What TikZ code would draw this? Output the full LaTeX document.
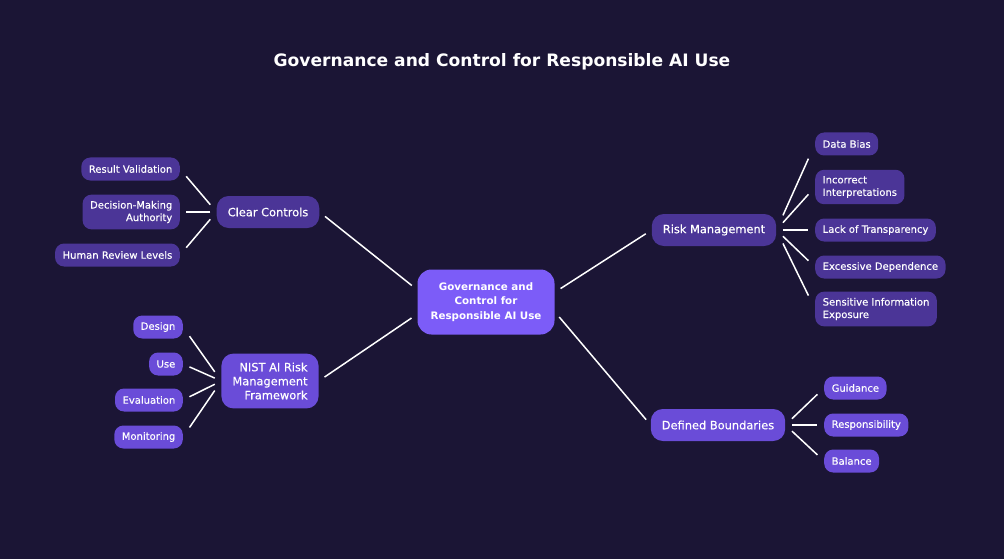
\documentclass[tikz,border=0pt]{standalone}
\usepackage{fontspec}
\setmainfont{DejaVu Sans}
\newfontfamily\nodefont{DejaVu Sans}[FakeBold=0.3]
\usetikzlibrary{positioning}
\usetikzlibrary{calc}
\definecolor{nightbg}{HTML}{1B1535}
\definecolor{deeppurple}{HTML}{4B3597}
\definecolor{brightpurple}{HTML}{6A4CD8}
\definecolor{hubpurple}{HTML}{7C5CF8}

\begin{document}
\begin{tikzpicture}[
  x=1pt, y=-1pt,
  font=\nodefont\fontsize{10}{12.5}\selectfont,
  leaf/.style={rounded corners=9pt, text=white, inner xsep=7.5pt, inner ysep=6.3pt, minimum height=23pt},
  darkleaf/.style={leaf, fill=deeppurple},
  lightleaf/.style={leaf, fill=brightpurple},
  branch/.style={rounded corners=12pt, text=white, inner xsep=11pt, inner ysep=9pt, minimum height=32pt,
    font=\nodefont\fontsize{11.4}{14}\selectfont},
  hub/.style={rounded corners=14pt, fill=hubpurple, text=white, align=center, minimum width=137pt,
    minimum height=65pt, font=\bfseries\fontsize{10.3}{14.5}\selectfont},
  link/.style={draw=white, line width=1.5pt, shorten >=7pt, shorten <=7pt},
  twig/.style={draw=white, line width=1.5pt}
]
\fill[nightbg] (0,0) rectangle (1004,559);
\useasboundingbox (0,0) rectangle (1004,559);

\node[text=white, font=\bfseries\fontsize{17.1}{20}\selectfont] (title) at (502,62) {Governance and Control for Responsible AI Use};

% centre
\node[hub] (gov) at (486,302) {Governance and\\Control for\\Responsible AI Use};

% left branches
\node[branch, fill=deeppurple] (ctrl) at (268,212) {Clear Controls};
\node[branch, fill=brightpurple, align=right] (nist) at (270,381) {NIST AI Risk\\Management\\Framework};

\node[darkleaf, anchor=east] (valid) at (180,169) {Result Validation};
\node[darkleaf, anchor=east, align=right] (auth) at (180,212) {Decision-Making\\Authority};
\node[darkleaf, anchor=east] (review) at (180,255) {Human Review Levels};

\node[lightleaf, anchor=east] (design) at (183,327) {Design};
\node[lightleaf, anchor=east] (use) at (183,364) {Use};
\node[lightleaf, anchor=east] (evalu) at (183,400) {Evaluation};
\node[lightleaf, anchor=east] (monit) at (183,437) {Monitoring};

% right branches
\node[branch, fill=deeppurple] (risk) at (714,230) {Risk Management};
\node[branch, fill=brightpurple] (bound) at (718,425) {Defined Boundaries};

\node[darkleaf, anchor=west] (bias) at (815,144) {Data Bias};
\node[darkleaf, anchor=west, align=left] (interp) at (815,187) {Incorrect\\Interpretations};
\node[darkleaf, anchor=west] (transp) at (815,230) {Lack of Transparency};
\node[darkleaf, anchor=west] (depend) at (815,267) {Excessive Dependence};
\node[darkleaf, anchor=west, align=left] (expose) at (815,309) {Sensitive Information\\Exposure};

\node[lightleaf, anchor=west] (guide) at (824,388) {Guidance};
\node[lightleaf, anchor=west] (respon) at (824,425) {Responsibility};
\node[lightleaf, anchor=west] (balance) at (824,461) {Balance};

% connectors
\draw[link] (gov.170) -- (ctrl.east);
\draw[link] (gov.190) -- (nist.east);
\draw[link] (gov.8) -- (risk.west);
\draw[link] (gov.352) -- (bound.west);

\foreach \leaf in {valid,auth,review}
  \draw[twig] ($(ctrl.west)!0.17!(\leaf.east)$) -- ($(ctrl.west)!0.83!(\leaf.east)$);
\foreach \leaf in {design,use,evalu,monit}
  \draw[twig] ($(nist.west)!0.17!(\leaf.east)$) -- ($(nist.west)!0.83!(\leaf.east)$);
\foreach \leaf in {bias,interp,transp,depend,expose}
  \draw[twig] ($(risk.east)!0.17!(\leaf.west)$) -- ($(risk.east)!0.83!(\leaf.west)$);
\foreach \leaf in {guide,respon,balance}
  \draw[twig] ($(bound.east)!0.17!(\leaf.west)$) -- ($(bound.east)!0.83!(\leaf.west)$);

\end{tikzpicture}
\end{document}
